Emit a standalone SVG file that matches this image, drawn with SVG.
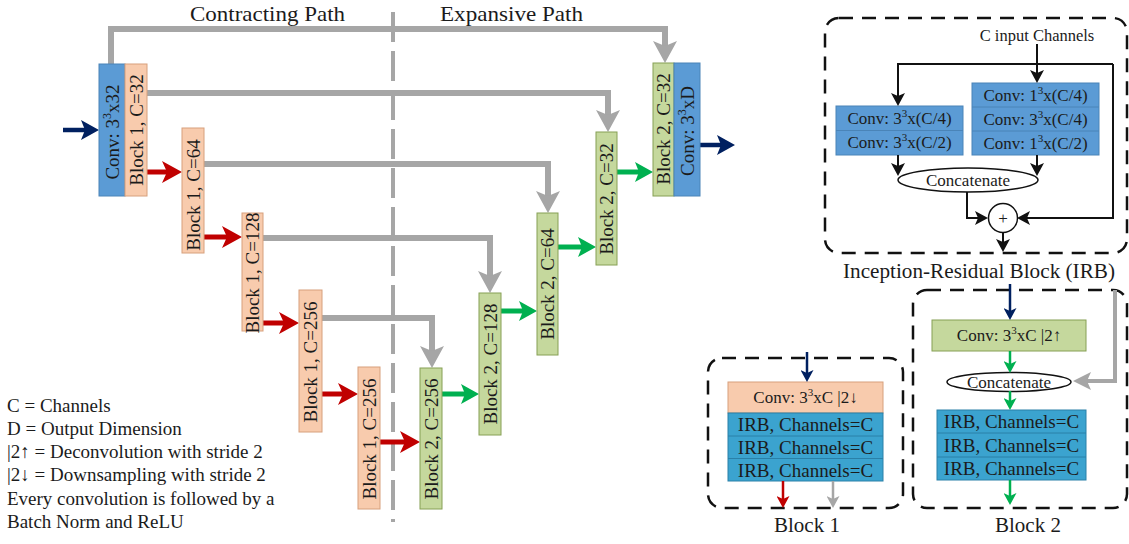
<svg xmlns="http://www.w3.org/2000/svg" width="1129" height="544" viewBox="0 0 1129 544" font-family="'Liberation Serif', 'Times New Roman', serif">
<style>
text{fill:#1b1b1b;font-family:'Liberation Serif','Times New Roman',serif}
.vt{font-size:19px;text-anchor:middle}
.t17{font-size:17px;text-anchor:middle}
.t19{font-size:19px;text-anchor:middle}
.leg{font-size:19px}
.conv{fill:#5b9bd5;stroke:#4a84b8;stroke-width:1}
.peach{fill:#f8cbad;stroke:#d7a07c;stroke-width:1}
.green{fill:#c5d89d;stroke:#86a055;stroke-width:1}
.teal{fill:#3ba3cf;stroke:#2a80a8;stroke-width:1}
.dash{fill:none;stroke:#111;stroke-width:2.5;stroke-dasharray:14 9}
.gray{fill:none;stroke:#a6a6a6;stroke-width:6;marker-end:url(#mGray)}
.red{fill:none;stroke:#c00000;stroke-width:5;marker-end:url(#mRed)}
.grn{fill:none;stroke:#00b050;stroke-width:5;marker-end:url(#mGrn)}
.navy{fill:none;stroke:#002060;stroke-width:4.5;marker-end:url(#mNavy)}
.blk{fill:none;stroke:#111;stroke-width:2;marker-end:url(#mBlk)}
.sNavy{fill:none;stroke:#002060;stroke-width:2.5;marker-end:url(#sNavy)}
.sRed{fill:none;stroke:#c00000;stroke-width:2.5;marker-end:url(#sRed)}
.sGray{fill:none;stroke:#a6a6a6;stroke-width:2.5;marker-end:url(#sGray)}
.sGrn{fill:none;stroke:#00b050;stroke-width:2.5;marker-end:url(#sGrn)}
.gGray{fill:none;stroke:#a6a6a6;stroke-width:4;marker-end:url(#gGray)}
</style>
<defs>
<marker id="mGray" markerUnits="userSpaceOnUse" markerWidth="22" markerHeight="24" refX="9" refY="12" orient="auto"><path d="M0,0 L22,12 L0,24 L5,12 z" fill="#a6a6a6"/></marker>
<marker id="mRed" markerUnits="userSpaceOnUse" markerWidth="20" markerHeight="22" refX="8" refY="11" orient="auto"><path d="M0,0 L20,11 L0,22 L5,11 z" fill="#c00000"/></marker>
<marker id="mGrn" markerUnits="userSpaceOnUse" markerWidth="18" markerHeight="20" refX="7" refY="10" orient="auto"><path d="M0,0 L18,10 L0,20 L4,10 z" fill="#00b050"/></marker>
<marker id="mNavy" markerUnits="userSpaceOnUse" markerWidth="18" markerHeight="20" refX="7" refY="10" orient="auto"><path d="M0,0 L18,10 L0,20 L4,10 z" fill="#002060"/></marker>
<marker id="mBlk" markerUnits="userSpaceOnUse" markerWidth="13" markerHeight="14" refX="5" refY="7" orient="auto"><path d="M0,0 L13,7 L0,14 L3,7 z" fill="#111"/></marker>
<marker id="sNavy" markerUnits="userSpaceOnUse" markerWidth="12" markerHeight="13" refX="5" refY="6.5" orient="auto"><path d="M0,0 L12,6.5 L0,13 L3,6.5 z" fill="#002060"/></marker>
<marker id="sRed" markerUnits="userSpaceOnUse" markerWidth="12" markerHeight="13" refX="5" refY="6.5" orient="auto"><path d="M0,0 L12,6.5 L0,13 L3,6.5 z" fill="#c00000"/></marker>
<marker id="sGray" markerUnits="userSpaceOnUse" markerWidth="12" markerHeight="13" refX="5" refY="6.5" orient="auto"><path d="M0,0 L12,6.5 L0,13 L3,6.5 z" fill="#a6a6a6"/></marker>
<marker id="sGrn" markerUnits="userSpaceOnUse" markerWidth="12" markerHeight="13" refX="5" refY="6.5" orient="auto"><path d="M0,0 L12,6.5 L0,13 L3,6.5 z" fill="#00b050"/></marker>
<marker id="gGray" markerUnits="userSpaceOnUse" markerWidth="18" markerHeight="18" refX="6" refY="9" orient="auto"><path d="M0,0 L18,9 L0,18 L4,9 z" fill="#a6a6a6"/></marker>
</defs>
<rect width="1129" height="544" fill="#fff"/>

<g id="titles">
<text x="190" y="21" font-size="21" textLength="155" lengthAdjust="spacingAndGlyphs">Contracting Path</text>
<text x="440" y="21" font-size="21" textLength="143" lengthAdjust="spacingAndGlyphs">Expansive Path</text>
</g>

<line id="divider" x1="393" y1="12" x2="393" y2="522" stroke="#a6a6a6" stroke-width="4" stroke-dasharray="30 9"/>

<g id="connectors">
<path class="gray" d="M111,64 V29 H665 V50"/>
<path class="gray" d="M147,93 H608 V119"/>
<path class="gray" d="M204,164 H548 V200"/>
<path class="gray" d="M263,238 H490 V280"/>
<path class="gray" d="M322,318 H432 V355"/>
<path class="red" d="M147,172 H170"/>
<path class="red" d="M204,237 H230"/>
<path class="red" d="M263,323 H287"/>
<path class="red" d="M322,394 H346"/>
<path class="red" d="M380,442 H408"/>
<path class="grn" d="M442,394 H468"/>
<path class="grn" d="M501,311 H526"/>
<path class="grn" d="M558,247 H585"/>
<path class="grn" d="M617,172 H642"/>
<path class="navy" d="M63,130 H88"/>
<path class="navy" d="M700,145 H724"/>
</g>

<g id="conv_in">
<rect class="conv" x="99" y="64" width="26" height="132"/>
<text class="vt" transform="translate(112,132) rotate(-90)" y="6.5">Conv: 3<tspan font-size="12" dy="-8">3</tspan><tspan dy="8">x32</tspan></text>
</g>
<g id="b1_32">
<rect class="peach" x="125" y="64" width="22" height="132"/>
<text class="vt" transform="translate(136,130) rotate(-90)" y="6.5">Block 1, C=32</text>
</g>
<g id="b1_64">
<rect class="peach" x="182" y="128" width="22" height="125"/>
<text class="vt" transform="translate(193,195) rotate(-90)" y="6.5">Block 1, C=64</text>
</g>
<g id="b1_128">
<rect class="peach" x="242" y="213" width="21" height="118"/>
<text class="vt" transform="translate(252.5,273) rotate(-90)" y="6.5">Block 1, C=128</text>
</g>
<g id="b1_256a">
<rect class="peach" x="299" y="290" width="23" height="142"/>
<text class="vt" transform="translate(310.5,362) rotate(-90)" y="6.5">Block 1, C=256</text>
</g>
<g id="b1_256b">
<rect class="peach" x="358" y="367" width="22" height="142"/>
<text class="vt" transform="translate(369,439) rotate(-90)" y="6.5">Block 1, C=256</text>
</g>

<g id="b2_256">
<rect class="green" x="420" y="368" width="22" height="141"/>
<text class="vt" transform="translate(431,439) rotate(-90)" y="6.5">Block 2, C=256</text>
</g>
<g id="b2_128">
<rect class="green" x="479" y="293" width="22" height="142"/>
<text class="vt" transform="translate(490,364) rotate(-90)" y="6.5">Block 2, C=128</text>
</g>
<g id="b2_64">
<rect class="green" x="537" y="213" width="21" height="142"/>
<text class="vt" transform="translate(547.5,284) rotate(-90)" y="6.5">Block 2, C=64</text>
</g>
<g id="b2_32">
<rect class="green" x="596" y="132" width="21" height="133"/>
<text class="vt" transform="translate(606.5,199) rotate(-90)" y="6.5">Block 2, C=32</text>
</g>
<g id="b2_32top">
<rect class="green" x="653" y="63" width="21" height="133"/>
<text class="vt" transform="translate(663.5,129) rotate(-90)" y="6.5">Block 2, C=32</text>
</g>
<g id="conv_out">
<rect class="conv" x="674" y="63" width="26" height="133"/>
<text class="vt" transform="translate(687,131) rotate(-90)" y="6.5">Conv: 3<tspan font-size="12" dy="-8">3</tspan><tspan dy="8">xD</tspan></text>
</g>

<g id="legend">
<text class="leg" x="7" y="412">C = Channels</text>
<text class="leg" x="7" y="435">D = Output Dimension</text>
<text class="leg" x="7" y="458">|2↑ = Deconvolution with stride 2</text>
<text class="leg" x="7" y="481">|2↓ = Downsampling with stride 2</text>
<text class="leg" x="7" y="505">Every convolution is followed by a</text>
<text class="leg" x="7" y="528">Batch Norm and ReLU</text>
</g>

<g id="irb">
<rect class="dash" x="825" y="18" width="302" height="235" rx="14"/>
<text x="1037" y="41" font-size="16.5" text-anchor="middle">C input Channels</text>
<g id="irb_left">
<rect class="conv" x="836" y="106" width="127" height="49"/>
<line x1="836" y1="130.5" x2="963" y2="130.5" stroke="#4a84b8"/>
<text class="t17" x="899.5" y="124">Conv: 3<tspan font-size="11" dy="-7">3</tspan><tspan dy="7">x(C/4)</tspan></text>
<text class="t17" x="899.5" y="148">Conv: 3<tspan font-size="11" dy="-7">3</tspan><tspan dy="7">x(C/2)</tspan></text>
</g>
<g id="irb_right">
<rect class="conv" x="972" y="83" width="127" height="72"/>
<line x1="972" y1="107" x2="1099" y2="107" stroke="#4a84b8"/>
<line x1="972" y1="131" x2="1099" y2="131" stroke="#4a84b8"/>
<text class="t17" x="1035.5" y="101">Conv: 1<tspan font-size="11" dy="-7">3</tspan><tspan dy="7">x(C/4)</tspan></text>
<text class="t17" x="1035.5" y="125">Conv: 3<tspan font-size="11" dy="-7">3</tspan><tspan dy="7">x(C/4)</tspan></text>
<text class="t17" x="1035.5" y="149">Conv: 1<tspan font-size="11" dy="-7">3</tspan><tspan dy="7">x(C/2)</tspan></text>
</g>
<g id="irb_concat">
<ellipse cx="968" cy="180" rx="70" ry="12" fill="#fff" stroke="#111" stroke-width="1.5"/>
<text x="968" y="185.5" font-size="17" text-anchor="middle">Concatenate</text>
</g>
<g id="irb_add">
<circle cx="1003" cy="218" r="14.5" fill="#fff" stroke="#111" stroke-width="1.5"/>
<text x="1003" y="224" font-size="17" text-anchor="middle">+</text>
</g>
<g id="irb_connectors">
<path class="blk" d="M1037,44 V75"/>
<path class="blk" d="M1113,64 H898 V98"/>
<path class="blk" d="M1113,64 V218 H1025"/>
<path class="blk" d="M898,155 V168"/>
<path class="blk" d="M1037,155 V168"/>
<path class="blk" d="M967,192 V218 H980"/>
<path class="blk" d="M1003,232.5 V244"/>
</g>
<text x="979" y="278" font-size="20" text-anchor="middle" textLength="272" lengthAdjust="spacingAndGlyphs">Inception-Residual Block (IRB)</text>
</g>

<g id="block1">
<rect class="dash" x="708" y="358" width="195" height="150" rx="14"/>
<rect class="peach" x="728" y="382" width="155" height="31"/>
<text class="t17" x="805.5" y="403">Conv: 3<tspan font-size="11" dy="-7">3</tspan><tspan dy="7">xC |2↓</tspan></text>
<rect class="teal" x="728" y="413" width="155" height="68"/>
<line x1="728" y1="436" x2="883" y2="436" stroke="#2a80a8"/>
<line x1="728" y1="458.5" x2="883" y2="458.5" stroke="#2a80a8"/>
<text class="t19" x="805.5" y="431">IRB, Channels=C</text>
<text class="t19" x="805.5" y="454">IRB, Channels=C</text>
<text class="t19" x="805.5" y="476.5">IRB, Channels=C</text>
<path class="sNavy" d="M807,352 V375"/>
<path class="sRed" d="M783,481 V501"/>
<path class="sGray" d="M833,481 V501"/>
<text x="807" y="532" font-size="21" text-anchor="middle">Block 1</text>
</g>

<g id="block2">
<rect class="dash" x="913" y="290" width="214" height="218" rx="14"/>
<rect class="green" x="932" y="320" width="154" height="31"/>
<text class="t17" x="1009" y="341">Conv: 3<tspan font-size="11" dy="-7">3</tspan><tspan dy="7">xC |2↑</tspan></text>
<ellipse cx="1009" cy="382" rx="62" ry="9.5" fill="#fff" stroke="#111" stroke-width="1.5"/>
<text x="1009" y="387.5" font-size="17" text-anchor="middle">Concatenate</text>
<rect class="teal" x="937" y="410" width="149" height="70"/>
<line x1="937" y1="433" x2="1086" y2="433" stroke="#2a80a8"/>
<line x1="937" y1="457" x2="1086" y2="457" stroke="#2a80a8"/>
<text class="t19" x="1011.5" y="428">IRB, Channels=C</text>
<text class="t19" x="1011.5" y="451.5">IRB, Channels=C</text>
<text class="t19" x="1011.5" y="475">IRB, Channels=C</text>
<path class="sNavy" d="M1010,284 V313"/>
<path class="sGrn" d="M1010,351 V366"/>
<path class="gGray" d="M1115,290 V381 H1085"/>
<path class="sGrn" d="M1010,391 V403"/>
<path class="sGrn" d="M1010,480 V498"/>
<text x="1028" y="532" font-size="21" text-anchor="middle">Block 2</text>
</g>
</svg>
